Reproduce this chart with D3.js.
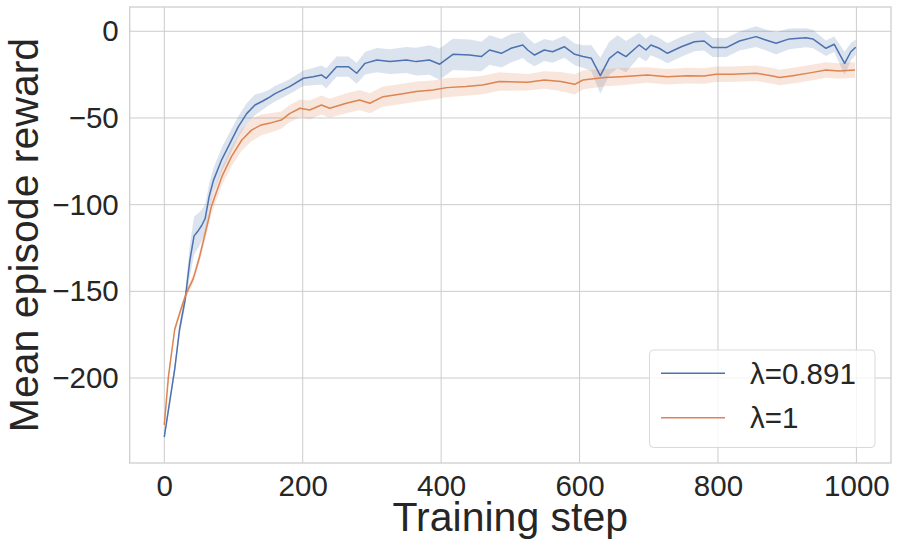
<!DOCTYPE html>
<html>
<head>
<meta charset="utf-8">
<script src="https://cdn.jsdelivr.net/npm/d3@7"></script>
<style>
  html, body { margin: 0; padding: 0; background: #ffffff; }
  svg { display: block; font-family: "Liberation Sans", Arial, sans-serif; }
</style>
</head>
<body>
<svg id="chart" width="900" height="552"></svg>
<script>
// ---- data ----
const seriesNames = ["λ=0.891", "λ=1"];
const xTicks = [0, 200, 400, 600, 800, 1000];
const yTicks = [0, -50, -100, -150, -200];

const blueSteps = [0, 8, 15, 22, 30, 37, 43, 49, 54, 59, 65, 71, 83, 95, 107, 119, 131, 141, 150, 160, 181, 201, 215, 227, 234, 249, 266, 278, 290, 307, 326, 350, 364, 383, 398, 417, 441, 458, 470, 487, 501, 518, 525, 535, 549, 561, 578, 593, 605, 617, 630, 643, 655, 667, 686, 696, 703, 715, 727, 747, 766, 780, 792, 812, 831, 855, 869, 884, 903, 927, 937, 956, 968, 983, 992, 999];
const blueMean = [-234, -213, -195, -172, -155, -132, -118, -115, -112, -108, -95, -86, -74, -64.5, -55, -47.5, -42.5, -40.5, -38.5, -36, -31.9, -27.1, -26.2, -25.2, -27.1, -20.4, -20.4, -24.2, -18.5, -16.6, -17.5, -16.6, -17.5, -16.6, -19, -13.3, -13.7, -14.6, -10.8, -12.7, -9.8, -7.9, -10.8, -13.7, -10.8, -11.8, -8.9, -13.3, -14.6, -15.6, -25.6, -15.6, -11.8, -14.6, -7.9, -10.8, -7.9, -9.8, -12.7, -8.9, -6, -5.6, -9.4, -9.4, -5.6, -3.1, -5, -6.9, -4.4, -3.7, -4.4, -9.8, -7.5, -18.5, -11.8, -9.2];
const blueCI = [2, 2.5, 3, 3.5, 4, 9, 11, 10, 9, 8, 7.5, 7, 7, 6.5, 6, 6, 6, 5, 4.5, 4.5, 4.3, 4.5, 5, 5.5, 5.8, 5.8, 5.8, 6, 6.5, 7, 7.2, 7.5, 8, 8.5, 9, 9, 9, 8.5, 8.5, 8.2, 8.2, 7.5, 7, 6.5, 6.3, 6.3, 6.3, 6.3, 6.5, 7.5, 10.5, 9.5, 9.5, 9, 7, 6.5, 6, 6, 5.8, 5.8, 5.5, 5.5, 5.5, 5.5, 5.5, 6, 6, 6.5, 6, 5.5, 5.3, 4.5, 4.5, 6.7, 5, 4.5];

const orangeSteps = [0, 6, 15, 25, 32, 42, 51, 63, 68, 83, 97, 112, 126, 140, 155, 169, 181, 196, 210, 227, 239, 263, 282, 297, 316, 340, 364, 388, 408, 436, 460, 484, 525, 549, 573, 593, 605, 636, 660, 698, 727, 756, 780, 797, 821, 855, 877, 889, 908, 937, 956, 975, 998];
const orangeMean = [-227, -199, -172, -159, -151, -142.5, -130, -110, -101, -84, -72.3, -62.7, -57, -54, -52.7, -51.2, -47.5, -44.4, -45.4, -42.5, -44.4, -41.5, -39.6, -41.5, -37.7, -36.3, -34.8, -33.9, -32.5, -31.9, -31, -29, -29.4, -28.1, -29, -30.6, -28.1, -26.7, -26.2, -25.2, -26.2, -25.6, -25.8, -24.8, -24.8, -24.2, -25.6, -26.7, -25.6, -23.7, -22.3, -22.9, -22.3];
const orangeCI = [2, 2, 2, 2, 2, 2.5, 3, 4, 4.5, 5, 5.5, 6, 6.5, 6, 5.5, 5, 5, 5, 5.5, 5.5, 5.5, 5.8, 5.8, 5.8, 5.8, 5.8, 5.8, 5.5, 5.5, 5.3, 5.3, 5.3, 4.8, 5, 5.5, 5.8, 5.5, 5, 5, 4.5, 4.5, 4.5, 4.5, 4.5, 4.5, 4.5, 4.5, 4.5, 4.5, 4.5, 4.5, 4.5, 4.5];

const colors = ["#4c72b0", "#dd8452"];

// ---- layout ----
const W = 900, H = 552;
const margin = { left: 129.7, right: 9, top: 7, bottom: 89 };
const plotW = W - margin.left - margin.right;
const plotH = H - margin.top - margin.bottom;

const svg = d3.select("#chart");
const x = d3.scaleLinear().domain([-50, 1050]).range([margin.left, margin.left + plotW]);
const y = d3.scaleLinear().domain([-249, 14]).range([margin.top + plotH, margin.top]);

const textColor = "#262626";
const gridColor = "#cccccc";

// grid
const grid = svg.append("g");
grid.selectAll(".gx").data(xTicks).enter().append("line")
  .attr("x1", d => x(d)).attr("x2", d => x(d))
  .attr("y1", margin.top).attr("y2", margin.top + plotH)
  .attr("stroke", gridColor).attr("stroke-width", 1);
grid.selectAll(".gy").data(yTicks).enter().append("line")
  .attr("x1", margin.left).attr("x2", margin.left + plotW)
  .attr("y1", d => y(d)).attr("y2", d => y(d))
  .attr("stroke", gridColor).attr("stroke-width", 1);

// clip
svg.append("clipPath").attr("id", "clip").append("rect")
  .attr("x", margin.left).attr("y", margin.top).attr("width", plotW).attr("height", plotH);

const plot = svg.append("g").attr("clip-path", "url(#clip)");

function buildSeries(steps, mean, ci) {
  return steps.map((s, i) => ({ s: s, m: mean[i], lo: mean[i] - ci[i], hi: mean[i] + ci[i] }));
}
const series = [
  buildSeries(blueSteps, blueMean, blueCI),
  buildSeries(orangeSteps, orangeMean, orangeCI)
];

const area = d3.area().x(d => x(d.s)).y0(d => y(d.lo)).y1(d => y(d.hi));
const line = d3.line().x(d => x(d.s)).y(d => y(d.m));

series.forEach((data, i) => {
  plot.append("path").datum(data)
    .attr("d", area)
    .attr("fill", colors[i]).attr("fill-opacity", 0.2).attr("stroke", "none");
});
series.forEach((data, i) => {
  plot.append("path").datum(data)
    .attr("d", line)
    .attr("fill", "none").attr("stroke", colors[i]).attr("stroke-width", 1.5)
    .attr("stroke-linejoin", "round");
});

// spines
svg.append("rect")
  .attr("x", margin.left).attr("y", margin.top).attr("width", plotW).attr("height", plotH)
  .attr("fill", "none").attr("stroke", gridColor).attr("stroke-width", 1.25);

// axes
const xAxis = d3.axisBottom(x).tickValues(xTicks).tickSize(0).tickPadding(12).tickFormat(d3.format("d"));
const gx = svg.append("g").attr("transform", `translate(0,${margin.top + plotH})`).call(xAxis);
gx.select(".domain").remove();
gx.selectAll("text").attr("font-size", 29.5).attr("fill", textColor)
  .attr("font-family", "Liberation Sans, Arial, sans-serif").attr("dy", "0.71em");

const yAxis = d3.axisLeft(y).tickValues(yTicks).tickSize(0).tickPadding(11)
  .tickFormat(d => d < 0 ? "\u2212" + Math.abs(d) : String(d));
const gy = svg.append("g").attr("transform", `translate(${margin.left},0)`).call(yAxis);
gy.select(".domain").remove();
gy.selectAll("text").attr("font-size", 29.5).attr("fill", textColor)
  .attr("font-family", "Liberation Sans, Arial, sans-serif");

// axis labels
svg.append("text")
  .attr("x", margin.left + plotW / 2).attr("y", 531)
  .attr("text-anchor", "middle").attr("font-size", 41).attr("fill", textColor)
  .text("Training step");
svg.append("text")
  .attr("transform", `translate(37.5,${margin.top + plotH / 2}) rotate(-90)`)
  .attr("text-anchor", "middle").attr("font-size", 41).attr("fill", textColor)
  .text("Mean episode reward");

// legend
const lg = svg.append("g");
lg.append("rect")
  .attr("x", 649.5).attr("y", 350).attr("width", 225.5).attr("height", 97.5)
  .attr("rx", 4).attr("ry", 4)
  .attr("fill", "#ffffff").attr("fill-opacity", 0.8)
  .attr("stroke", "#d9d9d9").attr("stroke-width", 1);
const legendRowY = [373.3, 417.7];
seriesNames.forEach((name, i) => {
  lg.append("line")
    .attr("x1", 661).attr("x2", 725)
    .attr("y1", legendRowY[i]).attr("y2", legendRowY[i])
    .attr("stroke", colors[i]).attr("stroke-width", 1.5);
  lg.append("text")
    .attr("x", 750).attr("y", legendRowY[i])
    .attr("dy", "0.35em")
    .attr("font-size", 29.5).attr("fill", textColor)
    .text(name);
});
</script>
</body>
</html>
